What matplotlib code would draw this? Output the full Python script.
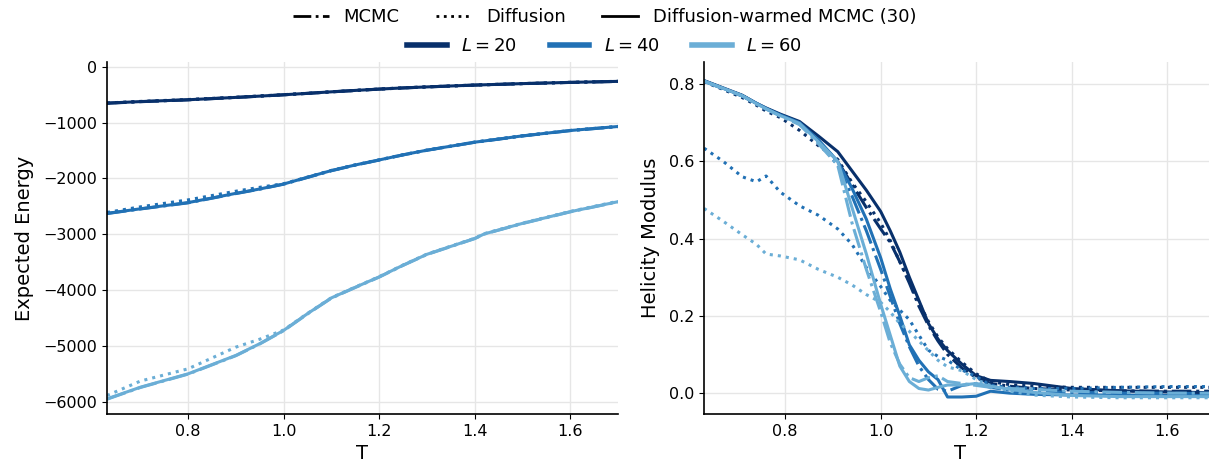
import matplotlib
matplotlib.use("Agg")
import matplotlib.pyplot as plt
from matplotlib.lines import Line2D

# colours for the three lattice sizes
sizes = [20, 40, 60]
colors = ['#08306b', '#2171b5', '#6baed6']

# expected energy
T_energy = [0.63, 0.70, 0.80, 0.90, 0.95, 1.00, 1.05, 1.10, 1.15, 1.20, 1.25, 1.30, 1.40, 1.42, 1.50, 1.60, 1.70]

energy_warm_20 = [-652, -625, -592, -550, -527, -503, -477, -450, -425, -401, -380, -362, -329, -324, -303, -281, -263]
energy_warm_40 = [-2627, -2545, -2434, -2268, -2190, -2101, -1980, -1860, -1760, -1670, -1578, -1495, -1352, -1330, -1239, -1143, -1071]
energy_warm_60 = [-5949, -5740, -5500, -5170, -4960, -4722, -4422, -4140, -3950, -3764, -3555, -3360, -3076, -2995, -2806, -2597, -2418]

energy_mcmc_20 = [-655, -627, -594, -551, -528, -504, -478, -451, -426, -402, -381, -363, -330, -325, -304, -282, -264]
energy_mcmc_40 = [-2630, -2548, -2438, -2272, -2193, -2104, -1983, -1863, -1762, -1672, -1580, -1497, -1354, -1332, -1241, -1145, -1073]
energy_mcmc_60 = [-5955, -5745, -5505, -5175, -4965, -4727, -4427, -4144, -3954, -3768, -3558, -3363, -3079, -2998, -2809, -2600, -2421]

energy_diff_20 = [-650, -622, -588, -547, -524, -501, -476, -449, -424, -400, -379, -361, -328, -323, -302, -280, -262]
energy_diff_40 = [-2610, -2510, -2385, -2230, -2160, -2095, -1977, -1857, -1758, -1668, -1576, -1493, -1350, -1328, -1237, -1141, -1069]
energy_diff_60 = [-5889, -5630, -5410, -5022, -4880, -4715, -4418, -4136, -3946, -3760, -3551, -3356, -3072, -2990, -2802, -2592, -2410]

# helicity modulus
T_heli = [0.63, 0.67, 0.71, 0.74, 0.76, 0.79, 0.83, 0.87, 0.91, 0.94, 0.97, 1.00, 1.02, 1.04, 1.06, 1.08,
          1.10, 1.12, 1.14, 1.17, 1.20, 1.23, 1.27, 1.32, 1.40, 1.50, 1.60, 1.70]

heli_warm_20 = [0.809, 0.790, 0.771, 0.750, 0.738, 0.722, 0.703, 0.665, 0.625, 0.575, 0.525, 0.470, 0.420, 0.365, 0.300, 0.240,
                0.180, 0.140, 0.110, 0.075, 0.045, 0.033, 0.030, 0.025, 0.012, 0.006, 0.003, 0.001]
heli_warm_40 = [0.808, 0.789, 0.770, 0.750, 0.737, 0.720, 0.700, 0.655, 0.600, 0.530, 0.450, 0.350, 0.270, 0.200, 0.125, 0.085,
                0.055, 0.035, -0.010, -0.010, -0.008, 0.005, 0.000, -0.003, -0.005, -0.005, -0.006, -0.006]
heli_warm_60 = [0.808, 0.789, 0.770, 0.749, 0.736, 0.718, 0.698, 0.650, 0.600, 0.480, 0.360, 0.230, 0.150, 0.070, 0.030, 0.012,
                0.008, 0.015, 0.021, 0.021, 0.025, 0.018, 0.010, 0.002, -0.006, -0.009, -0.009, -0.009]

heli_mcmc_20 = [0.808, 0.789, 0.770, 0.749, 0.736, 0.720, 0.698, 0.650, 0.600, 0.540, 0.480, 0.425, 0.390, 0.340, 0.285, 0.225,
                0.175, 0.135, 0.100, 0.065, 0.040, 0.025, 0.018, 0.012, 0.008, 0.006, 0.005, 0.005]
heli_mcmc_40 = [0.807, 0.788, 0.769, 0.749, 0.736, 0.719, 0.697, 0.650, 0.590, 0.510, 0.420, 0.320, 0.250, 0.180, 0.120, 0.070,
                0.035, 0.010, 0.005, 0.020, 0.025, 0.015, 0.008, 0.005, 0.002, 0.000, 0.000, -0.002]
heli_mcmc_60 = [0.807, 0.788, 0.769, 0.748, 0.735, 0.717, 0.695, 0.645, 0.590, 0.440, 0.320, 0.210, 0.130, 0.075, 0.040, 0.030,
                0.040, 0.045, 0.030, 0.025, 0.020, 0.015, 0.012, 0.010, 0.005, 0.002, 0.000, 0.000]

heli_diff_20 = [0.806, 0.786, 0.765, 0.745, 0.730, 0.713, 0.680, 0.640, 0.605, 0.545, 0.495, 0.440, 0.395, 0.340, 0.290, 0.235,
                0.185, 0.145, 0.115, 0.080, 0.050, 0.030, 0.022, 0.018, 0.015, 0.015, 0.015, 0.015]
heli_diff_40 = [0.634, 0.600, 0.560, 0.547, 0.562, 0.520, 0.485, 0.460, 0.425, 0.385, 0.325, 0.276, 0.240, 0.215, 0.190, 0.150,
                0.111, 0.095, 0.085, 0.060, 0.043, 0.020, 0.015, 0.012, 0.012, 0.015, 0.017, 0.017]
heli_diff_60 = [0.478, 0.445, 0.410, 0.385, 0.360, 0.355, 0.345, 0.320, 0.300, 0.280, 0.255, 0.235, 0.210, 0.180, 0.160, 0.135,
                0.110, 0.085, 0.068, 0.058, 0.035, 0.020, 0.005, -0.005, -0.010, -0.012, -0.012, -0.012]

energy_warm = [energy_warm_20, energy_warm_40, energy_warm_60]
energy_mcmc = [energy_mcmc_20, energy_mcmc_40, energy_mcmc_60]
energy_diff = [energy_diff_20, energy_diff_40, energy_diff_60]
heli_warm = [heli_warm_20, heli_warm_40, heli_warm_60]
heli_mcmc = [heli_mcmc_20, heli_mcmc_40, heli_mcmc_60]
heli_diff = [heli_diff_20, heli_diff_40, heli_diff_60]

W, H = 1209, 465
fig = plt.figure(figsize=(W / 100, H / 100), dpi=100)
ax1 = fig.add_axes([107 / W, (H - 414) / H, 511 / W, 352 / H])
ax2 = fig.add_axes([704 / W, (H - 414) / H, 511 / W, 352 / H])

lw = 2.2
for i in range(3):
    c = colors[i]
    ax1.plot(T_energy, energy_mcmc[i], color=c, ls='-.', lw=lw)
    ax1.plot(T_energy, energy_diff[i], color=c, ls=':', lw=lw)
    ax1.plot(T_energy, energy_warm[i], color=c, ls='-', lw=lw)
    ax2.plot(T_heli, heli_mcmc[i], color=c, ls='-.', lw=lw)
    ax2.plot(T_heli, heli_diff[i], color=c, ls=':', lw=lw)
    ax2.plot(T_heli, heli_warm[i], color=c, ls='-', lw=lw)

ax1.set_xlim(0.63, 1.70)
ax1.set_ylim(-6220, 84)
ax2.set_xlim(0.63, 1.70)
ax2.set_ylim(-0.054, 0.857)
ax1.set_yticks([0, -1000, -2000, -3000, -4000, -5000, -6000])
ax2.set_yticks([0.0, 0.2, 0.4, 0.6, 0.8])

for ax in (ax1, ax2):
    ax.set_xticks([0.8, 1.0, 1.2, 1.4, 1.6])
    ax.grid(True, color='#e6e6e6', lw=1)
    ax.set_axisbelow(True)
    ax.spines['top'].set_visible(False)
    ax.spines['right'].set_visible(False)
    ax.spines['left'].set_linewidth(1.2)
    ax.spines['bottom'].set_linewidth(1.2)
    ax.tick_params(labelsize=11.5)
    ax.set_xlabel('T', fontsize=14)

ax1.set_ylabel('Expected Energy', fontsize=14, labelpad=7)
ax2.set_ylabel('Helicity Modulus', fontsize=14, labelpad=6)

# two-row legend on top
style_handles = [Line2D([], [], color='black', ls='-.', lw=2),
                 Line2D([], [], color='black', ls=':', lw=2),
                 Line2D([], [], color='black', ls='-', lw=2)]
style_labels = ['MCMC', 'Diffusion', 'Diffusion-warmed MCMC (30)']
fig.legend(style_handles, style_labels, loc='center', bbox_to_anchor=(0.5, 1 - 17 / H),
           ncol=3, frameon=False, fontsize=13, handlelength=2, columnspacing=2.0)

size_handles = [Line2D([], [], color=c, lw=4) for c in colors]
size_labels = [f'$L = {s}$' for s in sizes]
fig.legend(size_handles, size_labels, loc='center', bbox_to_anchor=(0.5, 1 - 46 / H),
           ncol=3, frameon=False, fontsize=13, handlelength=2.2, columnspacing=1.8)

fig.savefig('out.png', dpi=100)
